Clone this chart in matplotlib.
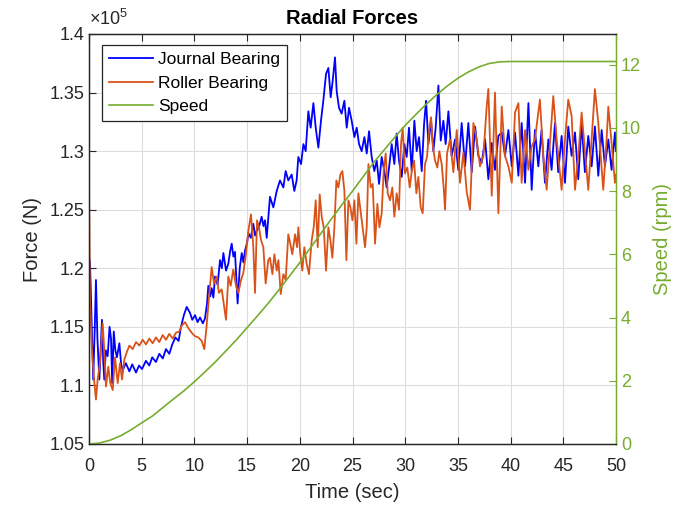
import matplotlib
matplotlib.use("Agg")
import matplotlib.pyplot as plt
import numpy as np
from matplotlib.ticker import FuncFormatter

plt.rcParams['font.family'] = ['Liberation Sans', 'DejaVu Sans']
plt.rcParams['mathtext.fontset'] = 'custom'
plt.rcParams['mathtext.rm'] = 'Liberation Sans'

# ---------------- data (force in units of 1e5 N) ----------------
journal_time = [
    0.0, 0.1, 0.2, 0.4, 0.55, 0.66, 0.8, 0.98, 1.1, 1.23, 1.35, 1.45, 1.6, 1.77, 1.95, 2.09, 2.2, 2.35, 2.5, 2.65,
    2.88, 3.05, 3.2, 3.5, 3.83, 4.1, 4.46, 4.75, 5.03, 5.4, 5.72, 6.0, 6.35, 6.67, 7.0, 7.3, 7.62, 7.9, 8.2, 8.5, 8.73,
    9.0, 9.27, 9.58, 9.8, 10.06, 10.3, 10.53, 10.8, 11.0, 11.2, 11.32, 11.5, 11.64, 11.8, 11.96, 12.2, 12.43, 12.6,
    12.75, 13.0, 13.22, 13.4, 13.54, 13.7, 13.85, 14.1, 14.3, 14.49, 14.65, 14.8, 15.0, 15.12, 15.35, 15.59, 15.75,
    15.91, 16.15, 16.38, 16.55, 16.7,
    16.86, 17.17, 17.49, 17.81, 18.12, 18.44, 18.66, 18.91, 19.23, 19.48, 19.70, 19.86, 20.12, 20.34, 20.56, 20.81,
    21.03, 21.29, 21.51, 21.76, 22.01, 22.23, 22.49, 22.71, 22.93, 23.12, 23.34, 23.50, 23.72, 23.97, 24.23, 24.45,
    24.67, 24.92, 25.18, 25.40,
    25.62, 25.87, 26.13, 26.35, 26.57, 26.82, 27.07, 27.30, 27.52, 27.77, 28.02, 28.24, 28.47, 28.72, 28.97, 29.19,
    29.41, 29.67, 29.92, 30.14, 30.36, 30.62, 30.87, 31.09, 31.31, 31.57, 31.79, 31.98, 32.20, 32.45, 32.67, 32.89,
    33.15, 33.37, 33.62, 33.84, 34.10,
    34.41, 34.73, 35.04, 35.36, 35.68, 35.99, 36.31, 36.63, 36.94, 37.26, 37.58, 37.89, 38.21, 38.52, 38.84, 39.16,
    39.47, 39.79, 40.11, 40.42, 40.74, 41.05, 41.37, 41.69, 42.0,
    42.31, 42.63, 42.94, 43.26, 43.58, 43.89, 44.21, 44.52, 44.84, 45.16, 45.47, 45.79, 46.11, 46.42, 46.74, 47.05,
    47.37, 47.69, 48.0, 48.32, 48.64, 48.95, 49.27, 49.58, 49.9, 50.0,
]
journal_force = [
    1.21, 1.204, 1.17, 1.105, 1.15, 1.19, 1.14, 1.105, 1.13, 1.156, 1.12, 1.105, 1.13, 1.125, 1.15, 1.14, 1.102, 1.146, 1.13, 1.124,
    1.136, 1.118, 1.113, 1.119, 1.112, 1.118, 1.111, 1.117, 1.114, 1.121, 1.117, 1.124, 1.120, 1.127, 1.123, 1.131, 1.127, 1.135, 1.141, 1.138, 1.150,
    1.160, 1.167, 1.162, 1.156, 1.160, 1.154, 1.158, 1.153, 1.157, 1.170, 1.185, 1.176, 1.183, 1.175, 1.193, 1.186, 1.207, 1.200,
    1.213, 1.198, 1.204, 1.215, 1.221, 1.210, 1.214, 1.170, 1.200, 1.213, 1.205, 1.215, 1.222, 1.230, 1.226, 1.238, 1.228,
    1.232, 1.236, 1.244, 1.236, 1.241,
    1.226, 1.261, 1.252, 1.266, 1.275, 1.269, 1.283, 1.275, 1.280, 1.266, 1.275, 1.295, 1.289, 1.306, 1.300, 1.334,
    1.320, 1.341, 1.320, 1.303, 1.326, 1.343, 1.366, 1.371, 1.346, 1.360, 1.380, 1.351, 1.337, 1.332, 1.343, 1.320,
    1.337, 1.326, 1.312, 1.320,
    1.306, 1.300, 1.312, 1.298, 1.317, 1.295, 1.283, 1.292, 1.272, 1.295, 1.283, 1.269, 1.286, 1.306, 1.289, 1.315,
    1.292, 1.278, 1.306, 1.295, 1.320, 1.283, 1.326, 1.300, 1.312, 1.283, 1.323, 1.343, 1.306, 1.326, 1.300, 1.320,
    1.356, 1.309, 1.326, 1.306, 1.334,
    1.296, 1.310, 1.284, 1.324, 1.287, 1.324, 1.282, 1.321, 1.296, 1.290, 1.310, 1.276, 1.307, 1.284, 1.313, 1.316,
    1.296, 1.318, 1.287, 1.316, 1.279, 1.324, 1.273, 1.341, 1.267,
    1.318, 1.287, 1.318, 1.273, 1.310, 1.284, 1.324, 1.282, 1.313, 1.273, 1.321, 1.296, 1.316, 1.276, 1.324, 1.282,
    1.313, 1.287, 1.321, 1.279, 1.318, 1.287, 1.310, 1.284, 1.316, 1.300,
]

roller_time = [
    0.0, 0.095, 0.28, 0.51, 0.66, 0.82, 1.04, 1.30, 1.45, 1.61, 1.83, 2.02, 2.25, 2.47, 2.72, 2.94, 3.13, 3.35, 3.57,
    3.83, 4.14, 4.46, 4.78, 5.09, 5.41, 5.72, 6.04, 6.36, 6.67, 6.99, 7.30, 7.62, 7.94, 8.25, 8.57,
    8.79, 9.11, 9.42, 9.74, 10.06, 10.37, 10.69, 10.94, 11.16, 11.39, 11.64, 11.86, 12.11, 12.33, 12.59, 12.81, 13.0,
    13.22, 13.44, 13.69, 13.95, 14.17, 14.42, 14.64, 14.86, 15.12, 15.37, 15.59, 15.75, 15.94, 16.13, 16.32, 16.54,
    16.76, 17.01,
    17.17, 17.40, 17.59, 17.81, 17.97, 18.19, 18.44, 18.66, 18.91, 19.10, 19.29, 19.55, 19.74, 19.86, 20.05, 20.24,
    20.43, 20.65, 20.87, 21.13, 21.32, 21.51, 21.70, 21.89, 22.08, 22.27, 22.49, 22.71, 22.90, 23.09, 23.28, 23.47,
    23.66, 23.85, 24.04, 24.23, 24.42, 24.61, 24.80, 24.99, 25.18, 25.37,
    25.56, 25.87, 26.19, 26.35, 26.51, 26.73, 26.92, 27.14, 27.36, 27.55, 27.77, 27.96, 28.15, 28.34, 28.56, 28.78,
    28.97, 29.19, 29.41, 29.60, 29.76, 29.98, 30.20, 30.43, 30.62, 30.84, 31.06, 31.25, 31.47, 31.66, 31.88, 32.07,
    32.26, 32.45, 32.64, 32.83, 33.05, 33.24, 33.46, 33.65, 33.78, 33.97,
    34.25, 34.57, 34.89, 35.2, 35.52, 35.84, 36.15, 36.47, 36.78, 37.1, 37.42, 37.73, 37.89, 38.21, 38.52, 38.84,
    39.16, 39.47, 39.79, 40.11, 40.42, 40.74, 41.05, 41.37, 41.69, 42.0,
    42.31, 42.78, 43.1, 43.42, 43.73, 44.05, 44.37, 44.84, 45.16, 45.47, 45.79, 46.11, 46.42, 46.74, 47.05, 47.37,
    47.69, 48.0, 48.32, 48.79, 49.11, 49.27, 49.58, 49.9, 50.0,
]
roller_force = [
    1.275, 1.173, 1.130, 1.102, 1.088, 1.105, 1.119, 1.153, 1.130, 1.099, 1.116, 1.102, 1.096, 1.124, 1.102, 1.119, 1.105, 1.122, 1.128,
    1.134, 1.131, 1.137, 1.134, 1.139, 1.135, 1.140, 1.136, 1.141, 1.137, 1.143, 1.139, 1.144, 1.140, 1.145, 1.146,
    1.151, 1.154, 1.149, 1.145, 1.142, 1.141, 1.138, 1.131, 1.151, 1.176, 1.201, 1.187, 1.193, 1.179, 1.182, 1.168, 1.156,
    1.193, 1.185, 1.199, 1.185, 1.179, 1.190, 1.196, 1.210, 1.232, 1.246, 1.218, 1.179, 1.241, 1.235, 1.224, 1.218,
    1.187, 1.207,
    1.209, 1.195, 1.212, 1.198, 1.207, 1.178, 1.195, 1.190, 1.229, 1.221, 1.212, 1.229, 1.218, 1.235, 1.212, 1.198,
    1.218, 1.204, 1.195, 1.224, 1.235, 1.258, 1.218, 1.263, 1.244, 1.235, 1.198, 1.235, 1.224, 1.209, 1.235, 1.275,
    1.269, 1.280, 1.283, 1.266, 1.207, 1.258, 1.252, 1.241, 1.258, 1.221,
    1.264, 1.241, 1.218, 1.235, 1.289, 1.269, 1.272, 1.221, 1.255, 1.235, 1.247, 1.284, 1.298, 1.264, 1.258, 1.269,
    1.244, 1.264, 1.250, 1.306, 1.320, 1.281, 1.286, 1.269, 1.283, 1.292, 1.264, 1.278, 1.252, 1.247, 1.289, 1.295,
    1.317, 1.329, 1.303, 1.292, 1.286, 1.300, 1.289, 1.269, 1.250, 1.298,
    1.310, 1.282, 1.318, 1.273, 1.299, 1.265, 1.250, 1.324, 1.310, 1.287, 1.296, 1.338, 1.353, 1.262, 1.350, 1.247,
    1.338, 1.296, 1.287, 1.273, 1.333, 1.341, 1.273, 1.318, 1.284, 1.304,
    1.310, 1.344, 1.296, 1.267, 1.307, 1.347, 1.310, 1.267, 1.310, 1.344, 1.330, 1.267, 1.296, 1.333, 1.301, 1.267,
    1.310, 1.353, 1.324, 1.267, 1.310, 1.338, 1.307, 1.273, 1.280,
]

speed_time = [0, 1, 2, 3, 4, 5, 6, 7, 8, 9, 10, 11, 12, 13, 14, 15, 16, 17, 18, 19, 20, 21, 22, 23, 24, 25,
              26, 27, 28, 29, 30, 31, 32, 33, 34, 35, 36, 37, 38, 39, 40, 42, 45, 50]
speed_rpm = [0, 0.03, 0.12, 0.26, 0.45, 0.67, 0.88, 1.15, 1.42, 1.68, 1.97, 2.28, 2.6, 2.95, 3.3, 3.68, 4.06,
             4.45, 4.87, 5.3, 5.74, 6.2, 6.66, 7.12, 7.57, 8.0, 8.45, 8.9, 9.3, 9.7, 10.08, 10.42, 10.75, 11.05,
             11.33, 11.57, 11.77, 11.93, 12.04, 12.09, 12.1, 12.1, 12.1, 12.1]

x_ticks = [0, 5, 10, 15, 20, 25, 30, 35, 40, 45, 50]
force_ticks = [1.05, 1.1, 1.15, 1.2, 1.25, 1.3, 1.35, 1.4]
speed_ticks = [0, 2, 4, 6, 8, 10, 12]

# ---------------- styling ----------------
c_blue = (0, 0, 1)
c_orange = (0.85, 0.325, 0.098)
c_green = (0.466, 0.674, 0.188)
c_axis = '#262626'

fig = plt.figure(figsize=(6.74, 5.08), dpi=100)
ax = fig.add_axes([89 / 674, 1 - 444 / 508, 527 / 674, 410 / 508])
ax2 = ax.twinx()

l1, = ax.plot(journal_time, journal_force, color=c_blue, lw=1.3, label='Journal Bearing')
l2, = ax.plot(roller_time, roller_force, color=c_orange, lw=1.3, label='Roller Bearing')
l3, = ax2.plot(speed_time, speed_rpm, color=c_green, lw=1.2, label='Speed')

ax.set_xlim(0, 50)
ax.set_ylim(1.05, 1.4)
ax2.set_ylim(0, 12.97)
ax.set_xticks(x_ticks)
ax.set_yticks(force_ticks)
ax2.set_yticks(speed_ticks)
ax.yaxis.set_major_formatter(FuncFormatter(lambda v, p: '%g' % round(v, 3)))

ax.grid(True, color='#dcdcdc', lw=0.8)
ax.set_axisbelow(True)

ax.tick_params(axis='both', direction='in', length=5, width=0.8, labelsize=13, colors=c_axis,
               top=True, right=False)
ax.tick_params(axis='x', pad=10)
ax2.tick_params(axis='y', direction='in', length=5, width=0.8, labelsize=13, colors=c_green)
for s in ['left', 'bottom', 'top']:
    ax.spines[s].set_color(c_axis)
    ax2.spines[s].set_color(c_axis)
ax2.spines['right'].set_color(c_green)
ax.spines['right'].set_color(c_green)
for a in (ax, ax2):
    for s in a.spines.values():
        s.set_linewidth(0.9)

ax.set_xlabel('Time (sec)', fontsize=14.5, color=c_axis, labelpad=5.5)
ax.set_ylabel('Force (N)', fontsize=14.5, color=c_axis, labelpad=5)
ax2.set_ylabel('Speed (rpm)', fontsize=14.5, color=c_green, labelpad=8.5)
ax.set_title('Radial Forces', fontsize=14.5, fontweight='bold', color='black', pad=7.5)
ax.text(0.0, 1.012, r'$\times$10$^5$', transform=ax.transAxes, fontsize=13, color=c_axis,
        ha='left', va='bottom')

leg = ax2.legend(handles=[l1, l2, l3], loc='upper left', bbox_to_anchor=(0.0252, 0.9724),
                 borderaxespad=0, fontsize=12.5, fancybox=False, framealpha=1,
                 edgecolor='#262626', handlelength=2.55, handletextpad=0.25,
                 labelspacing=0.48, borderpad=0.4)
leg.get_frame().set_linewidth(0.9)

fig.savefig('out.png', dpi=100)
